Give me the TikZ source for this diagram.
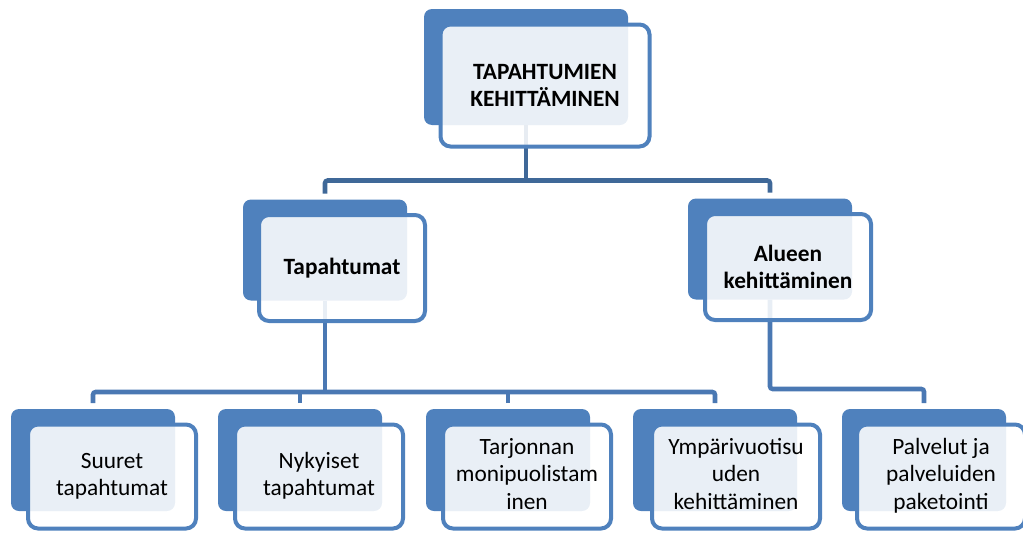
\documentclass[tikz,border=0pt]{standalone}
\usepackage{fontspec}
\setmainfont{Carlito}
\definecolor{boxblue}{HTML}{4F81BD}
\definecolor{connA}{HTML}{3F6898}
\definecolor{connB}{HTML}{4A78B3}
\tikzset{
  backbox/.style={fill=boxblue, rounded corners=6pt, inner sep=0pt, outer sep=0pt},
  frontbox/.style={draw=boxblue, line width=3pt, fill=white, fill opacity=0.88, text opacity=1,
    rounded corners=7.5pt, inner sep=0pt, outer sep=0pt, align=center,
    font=\fontsize{17.5}{20.5}\selectfont},
  lowtext/.style={text depth=0pt, yshift=-1.5pt},
  conn/.style={line width=3.4pt, rounded corners=2pt},
}
\begin{document}
\begin{tikzpicture}[x=0.75pt, y=-0.75pt]
\useasboundingbox (0,0) rectangle (1023,532);

% back boxes
\node[backbox, minimum width=204*0.75pt, minimum height=116*0.75pt] (topb) at (526,67) {};
\node[backbox, minimum width=164*0.75pt, minimum height=101*0.75pt] (tapb) at (325,250) {};
\node[backbox, minimum width=164*0.75pt, minimum height=101*0.75pt] (alub) at (770,249) {};
\node[backbox, minimum width=164*0.75pt, minimum height=102*0.75pt] (suub) at (93,460) {};
\node[backbox, minimum width=164*0.75pt, minimum height=102*0.75pt] (nykb) at (300,460) {};
\node[backbox, minimum width=164*0.75pt, minimum height=102*0.75pt] (tarb) at (508,460) {};
\node[backbox, minimum width=164*0.75pt, minimum height=102*0.75pt] (ympb) at (715,460) {};
\node[backbox, minimum width=164*0.75pt, minimum height=102*0.75pt] (palb) at (924,460) {};

% connectors (drawn behind front boxes)
\coordinate (h1) at (526,180.5);
\coordinate (h2) at (325,392);
\coordinate (h3) at (770,389);
\draw[conn, draw=connA] (topb.south) -- (h1);
\draw[conn, draw=connA] ([yshift=4.5pt]tapb.north) |- (h1) -| ([yshift=4.5pt]alub.north);
\draw[conn, draw=connB] (tapb.south) -- (h2);
\draw[conn, draw=connB] ([yshift=4.5pt]suub.north) |- (h2) -| ([yshift=4.5pt]ympb.north);
\draw[conn, draw=connB] ([yshift=4.5pt]nykb.north) -- (nykb.north |- h2);
\draw[conn, draw=connB] ([yshift=4.5pt]tarb.north) -- (tarb.north |- h2);
\draw[conn, draw=connB] (alub.south) -- (alub.south |- h3) -| ([yshift=4.5pt]palb.north);

% front boxes
\node[frontbox, minimum width=209*0.75pt, minimum height=122*0.75pt, font=\bfseries\fontsize{17.5}{20.5}\selectfont] (top) at (545,85.5) {TAPAHTUMIEN\\KEHITTÄMINEN};
\node[frontbox, minimum width=166*0.75pt, minimum height=106*0.75pt, font=\bfseries\fontsize{17.5}{20.5}\selectfont] (tap) at (342,268) {Tapahtumat};
\node[frontbox, minimum width=166*0.75pt, minimum height=106*0.75pt, font=\bfseries\fontsize{17.5}{20.5}\selectfont] (alu) at (788,267) {Alueen\\kehittäminen};
\node[frontbox, minimum width=168*0.75pt, minimum height=104*0.75pt] (suu) at (112,476.5) {\raisebox{-2.5pt}{\begin{tabular}{@{}c@{}}Suuret\\tapahtumat\end{tabular}}};
\node[frontbox, minimum width=168*0.75pt, minimum height=104*0.75pt] (nyk) at (319,476.5) {\raisebox{-2.5pt}{\begin{tabular}{@{}c@{}}Nykyiset\\tapahtumat\end{tabular}}};
\node[frontbox, minimum width=168*0.75pt, minimum height=104*0.75pt] (tar) at (527,476.5) {\raisebox{-1.5pt}{\begin{tabular}{@{}c@{}}Tarjonnan\\monipuolistam\\inen\end{tabular}}};
\node[frontbox, minimum width=168*0.75pt, minimum height=104*0.75pt] (ymp) at (736,476.5) {\raisebox{-1.5pt}{\begin{tabular}{@{}c@{}}Ympärivuotisu\\uden\\kehittäminen\end{tabular}}};
\node[frontbox, minimum width=168*0.75pt, minimum height=104*0.75pt] (pal) at (941,476.5) {\raisebox{-1.5pt}{\begin{tabular}{@{}c@{}}Palvelut ja\\palveluiden\\paketointi\end{tabular}}};
\end{tikzpicture}
\end{document}
